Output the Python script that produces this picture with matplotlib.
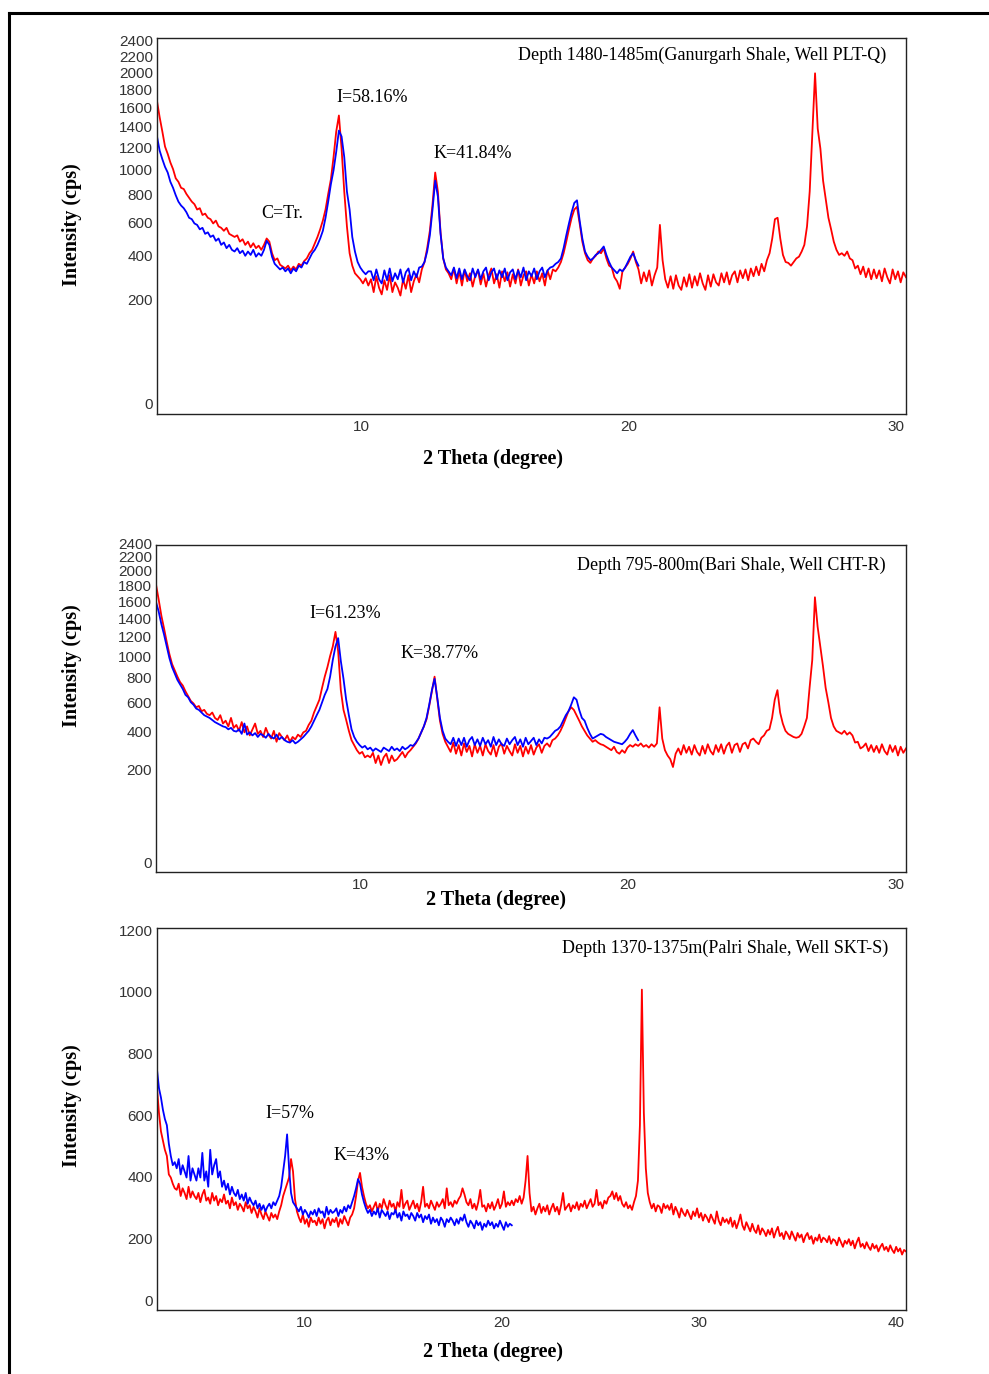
import numpy as np
import matplotlib
matplotlib.use("Agg")
import matplotlib.pyplot as plt
from matplotlib.lines import Line2D
from matplotlib.transforms import ScaledTranslation

# XRD patterns, 2 theta from 2 degrees in 0.1 degree steps
p1_red = [
    1780, 1600, 1450, 1300, 1230, 1150, 1090, 1010, 980, 930,
    920, 880, 850, 820, 800, 760, 770, 720, 730, 700,
    690, 660, 680, 640, 630, 610, 630, 590, 580, 570,
    580, 540, 555, 520, 540, 505, 530, 500, 515, 490,
    520, 560, 540, 470, 430, 440, 405, 395, 385, 400,
    375, 395, 380, 410, 400, 425, 440, 470, 490, 530,
    570, 620, 680, 760, 880, 1000, 1200, 1450, 1620, 1280,
    900, 640, 470, 400, 360, 345, 330, 310, 335, 300,
    330, 270, 345, 290, 260, 325, 280, 350, 270, 315,
    290, 255, 330, 285, 350, 270, 320, 355, 315, 380,
    420, 500, 610, 800, 1060, 900, 600, 440, 380, 360,
    330, 385, 310, 370, 300, 375, 320, 360, 295, 350,
    375, 305, 360, 295, 350, 385, 310, 355, 290, 370,
    320, 365, 295, 355, 310, 380, 300, 350, 370, 300,
    355, 310, 370, 320, 360, 300, 375, 330, 380, 370,
    390, 420, 470, 540, 620, 700, 760, 780, 660, 540,
    470, 430, 415, 440, 455, 480, 470, 500, 440, 400,
    390, 340, 320, 285, 370, 390, 410, 440, 480, 420,
    380, 310, 365, 320, 375, 300, 350, 390, 650, 430,
    330, 290, 345, 285, 350, 300, 280, 340, 295, 355,
    290, 345, 300, 360, 310, 280, 350, 295, 355, 315,
    300, 360, 315, 365, 305, 350, 370, 315, 375, 335,
    380, 325, 385, 345, 395, 350, 410, 370, 430, 470,
    560, 690, 700, 560, 460, 420, 415, 400, 420, 440,
    450, 480, 520, 640, 900, 1450, 2110, 1480, 1280, 990,
    840, 700, 620, 540, 490, 460, 470, 455, 480, 440,
    430, 385, 400, 355, 395, 340, 385, 330, 380, 335,
    375, 320, 385, 340, 310, 380, 330, 370, 315, 365,
    340,
]
p1_blue = [
    1400, 1260, 1180, 1110, 1060, 980, 930, 870, 820, 790,
    770, 740, 700, 690, 660, 650, 620, 630, 590, 600,
    570, 580, 545, 560, 520, 535, 500, 520, 490, 480,
    500, 470, 485, 455, 480, 460, 490, 450, 470, 455,
    490, 545, 520, 450, 410, 395, 380, 390, 370, 385,
    360, 385, 370, 400, 390, 420, 410, 440, 470, 490,
    520, 560, 610, 700, 820, 960, 1080, 1250, 1460, 1400,
    1200, 900, 760, 570, 480, 420, 390, 370, 355, 370,
    370, 325, 380, 330, 310, 375, 325, 385, 320, 360,
    330, 380, 315, 365, 385, 325, 370, 340, 390, 395,
    420, 480, 580, 760, 990, 860, 590, 440, 390, 370,
    350, 390, 335, 385, 330, 380, 345, 325, 385, 340,
    380, 330, 370, 390, 325, 365, 385, 330, 375, 340,
    385, 325, 365, 380, 330, 375, 340, 390, 325, 370,
    345, 385, 330, 370, 390, 340, 375, 390, 395, 410,
    420, 440, 500, 580, 660, 740, 810, 830, 680, 560,
    480, 450, 430, 440, 460, 470, 490, 510, 460, 420,
    390, 375, 360, 380, 370, 390, 420, 450, 470, 430,
    400,
]
p2_red = [
    1950, 1750, 1550, 1400, 1250, 1120, 1020, 960, 900, 850,
    820, 770, 730, 690, 670, 640, 650, 610, 620, 590,
    580, 600, 560, 545, 580, 520, 540, 500, 560, 490,
    510, 470, 530, 460, 500, 440, 480, 520, 450, 470,
    430, 490, 445, 420, 470, 400, 455, 430, 410, 440,
    400, 430, 415, 445, 430, 460, 470, 510, 540, 600,
    650, 700, 800, 900, 990, 1100, 1200, 1360, 1150, 780,
    620, 545, 470, 410, 380, 350, 330, 340, 310, 320,
    310, 335, 280, 320, 270, 310, 330, 280, 320, 290,
    300, 320, 340, 310, 335, 350, 370, 390, 420, 460,
    500, 550, 650, 770, 900, 710, 540, 450, 400, 370,
    340, 395, 330, 380, 320, 390, 340, 375, 315, 385,
    335, 375, 320, 385, 345, 325, 380, 315, 370, 390,
    330, 375, 345, 320, 385, 335, 375, 315, 370, 330,
    380, 325, 365, 385, 335, 375, 390, 370, 410, 420,
    440, 470, 510, 560, 610, 640, 620, 580, 540, 500,
    470, 440, 420, 400, 410, 395, 385, 380, 370, 360,
    350, 370, 340, 330, 350, 335, 365, 380, 370, 385,
    375, 390, 370, 380, 365, 385, 370, 390, 640, 420,
    350, 320, 300, 260, 330, 360, 325, 380, 335, 370,
    325, 380, 340, 320, 375, 330, 385, 345, 325, 380,
    340, 385, 330, 375, 395, 335, 380, 390, 340, 385,
    395, 360, 410, 420, 400, 385, 425, 440, 470, 480,
    560, 700, 780, 600, 520, 470, 450, 440, 430, 425,
    430, 450, 500, 560, 800, 1060, 1780, 1420, 1200, 1000,
    800, 680, 560, 500, 470, 460, 450, 470, 445, 460,
    440, 395, 400, 360, 370, 390, 345, 380, 340, 375,
    335, 385, 345, 325, 380, 340, 375, 320, 370, 335,
    360,
]
p2_blue = [
    1720, 1600, 1450, 1330, 1200, 1080, 990, 930, 870, 830,
    790, 740, 720, 680, 660, 630, 620, 600, 580, 570,
    560, 545, 530, 520, 510, 500, 495, 480, 490, 470,
    465, 480, 450, 520, 445, 460, 440, 455, 430, 450,
    440, 425, 450, 430, 420, 445, 415, 430, 410, 400,
    395, 410, 390, 400, 415, 430, 450, 470, 500, 540,
    580, 620, 680, 740, 790, 900, 1060, 1200, 1290, 1050,
    880, 700, 580, 480, 430, 400, 380, 365, 375, 355,
    365, 345, 360, 350, 340, 365, 355, 345, 370, 350,
    360, 345, 370, 355, 365, 380, 375, 395, 420, 460,
    500, 560, 660, 780, 880, 720, 560, 470, 420, 400,
    385, 425, 375, 420, 380, 425, 370, 410, 430, 380,
    415, 375, 425, 385, 410, 370, 430, 380, 415, 385,
    375, 420, 385, 410, 430, 380, 415, 370, 425, 385,
    405, 425, 380, 415, 390, 425, 420, 430, 450, 470,
    480, 500, 540, 580, 610, 660, 720, 700, 620, 560,
    540, 490, 450, 420, 430, 440, 450, 445, 430, 420,
    410, 400, 395, 390, 385, 400, 420, 450, 475, 440,
    410,
]
p3_red = [
    720, 640, 580, 550, 520, 500, 440, 430, 410, 395,
    390, 410, 370, 395, 380, 360, 400, 365, 385, 370,
    360, 380, 350, 375, 390, 355, 365, 345, 380, 355,
    370, 340, 360, 350, 375, 345, 355, 330, 365, 340,
    350, 325, 345, 335, 320, 350, 330, 340, 315, 335,
    320, 300, 330, 310, 295, 320, 305, 290, 315, 300,
    310, 295, 320, 340, 370, 390, 410, 430, 490, 450,
    360, 320, 300, 285, 310, 280, 295, 270, 300, 285,
    290, 275, 300, 280, 295, 265, 290, 300, 275, 295,
    285, 300, 270, 295, 280, 305, 290, 275, 300, 310,
    330, 370, 420, 445, 400, 370, 345, 330, 340, 320,
    335, 350, 320, 345, 330, 360, 340, 325, 355, 335,
    345, 320, 350, 335, 390, 330, 345, 355, 325, 340,
    355, 330, 345, 320, 350, 400, 335, 345, 330, 355,
    340, 325, 350, 335, 345, 360, 330, 395, 340, 350,
    335, 355, 345, 360, 370, 395, 375, 350, 340, 360,
    330, 345, 325, 350, 390, 335, 340, 320, 345, 330,
    350, 325, 340, 360, 330, 345, 385, 335, 350, 340,
    355, 340, 360, 350, 370, 345, 365, 420, 500, 380,
    320, 335, 310, 330, 345, 315, 335, 320, 340, 310,
    330, 345, 320, 335, 310, 340, 380, 325, 335, 345,
    320, 340, 330, 350, 325, 345, 335, 355, 330, 345,
    360, 335, 345, 390, 340, 350, 330, 355, 345, 365,
    370, 385, 360, 380, 355, 370, 345, 335, 350, 330,
    340, 325, 350, 370, 420, 600, 1040, 640, 460, 380,
    350, 330, 345, 320, 340, 335, 315, 345, 330, 340,
    325, 345, 310, 335, 320, 300, 330, 315, 305, 325,
    310, 295, 320, 305, 330, 300, 315, 290, 310, 300,
    285, 310, 295, 280, 320, 290, 275, 300, 285, 295,
    280, 300, 270, 290, 265, 285, 310, 275, 260, 285,
    270, 255, 280, 260, 250, 275, 245, 265, 255, 240,
    260, 245, 265, 235, 255, 270, 240, 250, 230, 255,
    245, 230, 255, 240, 225, 250, 235, 245, 220, 240,
    250, 230, 240, 215, 235, 225, 245, 220, 235, 230,
    220, 240, 215, 230, 225, 210, 235, 220, 205, 225,
    215, 230, 210, 225, 200, 220, 235, 205, 215, 200,
    220, 205, 195, 215, 200, 210, 190, 205, 215, 195,
    205, 190, 210, 195, 185, 205, 190, 200, 180, 195,
    190,
]
p3_blue = [
    780, 720, 690, 650, 620, 600, 540, 500, 470, 480,
    460, 490, 440, 470, 450, 430, 500, 420, 460, 440,
    420, 460, 430, 510, 420, 450, 400, 520, 440, 470,
    490, 430, 450, 400, 420, 390, 410, 375, 400, 380,
    370, 390, 360, 375, 355, 380, 345, 365, 350, 340,
    355, 330, 345, 325, 340, 320, 335, 345, 330, 350,
    340, 355, 370, 400, 450, 500, 570, 460, 380, 350,
    340, 330, 320, 335, 310, 325, 315, 300, 320, 310,
    325, 305, 330, 315, 320, 300, 335, 310, 325, 315,
    320, 330, 305, 325, 315, 335, 320, 340, 330, 350,
    370, 395, 425, 410, 375, 350, 330, 315, 325, 305,
    320, 310, 330, 300, 325, 315, 305, 320, 295, 315,
    310, 325, 300, 315, 290, 320, 305, 310, 295, 315,
    305, 290, 315, 300, 310, 285, 305, 295, 310, 280,
    300, 285, 295, 275, 300, 290, 270, 295, 285, 300,
    290, 275, 295, 280, 300, 290, 310, 285, 270, 290,
    280, 265, 290, 275, 285, 260, 280, 270, 290, 275,
    285, 265, 280, 270, 290, 275, 260, 285, 270, 280,
    275,
]

sqrt_ticks = [0, 200, 400, 600, 800, 1000, 1200, 1400, 1600, 1800, 2000, 2200, 2400]
lin_ticks = [0, 200, 400, 600, 800, 1000, 1200]

titles = [
    "Depth 1480-1485m(Ganurgarh Shale, Well PLT-Q)",
    "Depth 795-800m(Bari Shale, Well CHT-R)",
    "Depth 1370-1375m(Palri Shale, Well SKT-S)",
]

W, H = 989, 1374
SERIF = "Liberation Serif"
plt.rcParams["font.family"] = ["Liberation Sans", "DejaVu Sans"]


def box(left, top, right, bottom):
    return [left / W, 1 - bottom / H, (right - left) / W, (bottom - top) / H]


def ftext(fig, px, py, s, **kw):
    fig.text(px / W, 1 - py / H, s, family=SERIF, **kw)


def draw_panel(fig, ax, red, blue, xmax, ymax, yticks, xticks, sqrt_scale):
    """Plot one red/blue XRD pair on its own axes."""
    x_red = 2 + 0.1 * np.arange(len(red))
    x_blue = 2 + 0.1 * np.arange(len(blue))
    ax.plot(x_red, red, color="#ff0000", lw=1.3)
    ax.plot(x_blue, blue, color="#0000ff", lw=1.3)
    if sqrt_scale:
        ax.set_yscale("function",
                      functions=(lambda v: np.sqrt(np.clip(v, 0, None)), np.square))
    ax.set_xlim(2, xmax)
    ax.set_ylim(0, ymax)
    ax.set_xticks(xticks)
    ax.set_xticklabels([str(v) for v in xticks])
    ax.set_yticks(yticks)
    ax.set_yticklabels([str(v) for v in yticks])
    ax.tick_params(length=0, labelsize=11, labelcolor="#333333")
    ax.tick_params(axis="x", pad=4)
    ax.tick_params(axis="y", pad=3)
    for sp in ax.spines.values():
        sp.set_linewidth(1.0)
        sp.set_color("#222222")
    # the instrument software prints its labels a little off the tick spots
    dx = ScaledTranslation(-0.1, 0, fig.dpi_scale_trans)
    dy = ScaledTranslation(0, 0.1, fig.dpi_scale_trans)
    for lab in ax.get_xticklabels():
        lab.set_transform(lab.get_transform() + dx)
    for lab in ax.get_yticklabels():
        lab.set_transform(lab.get_transform() + dy)


fig = plt.figure(figsize=(W / 100, H / 100), dpi=100)

ax1 = fig.add_axes(box(157, 38, 906, 414))
draw_panel(fig, ax1, p1_red, p1_blue, 30, 2570, sqrt_ticks, [10, 20, 30], True)
ax2 = fig.add_axes(box(156, 545, 906, 872))
draw_panel(fig, ax2, p2_red, p2_blue, 30, 2522, sqrt_ticks, [10, 20, 30], True)
ax3 = fig.add_axes(box(157, 928, 906, 1310))
draw_panel(fig, ax3, p3_red, p3_blue, 40, 1240, lin_ticks, [10, 20, 30, 40], False)

# panel titles and peak labels
ftext(fig, 886, 55, titles[0], fontsize=13, ha="right", va="center")
ftext(fig, 372, 97, "I=58.16%", fontsize=13, ha="center", va="center")
ftext(fig, 473, 154, "K=41.84%", fontsize=13, ha="center", va="center")
ftext(fig, 282, 214, "C=Tr.", fontsize=13, ha="center", va="center")

ftext(fig, 886, 565, titles[1], fontsize=13, ha="right", va="center")
ftext(fig, 345, 614, "I=61.23%", fontsize=13, ha="center", va="center")
ftext(fig, 440, 653, "K=38.77%", fontsize=13, ha="center", va="center")

ftext(fig, 888, 948, titles[2], fontsize=13, ha="right", va="center")
ftext(fig, 290, 1113, "I=57%", fontsize=13, ha="center", va="center")
ftext(fig, 362, 1155, "K=43%", fontsize=13, ha="center", va="center")

# axis titles
for yc in (225, 666, 1106):
    ftext(fig, 72, yc, "Intensity (cps)", fontsize=14.5, fontweight="bold",
          rotation=90, ha="center", va="center")
for xc, yc in ((493, 459), (496, 900), (493, 1352)):
    ftext(fig, xc, yc, "2 Theta (degree)", fontsize=14.5, fontweight="bold",
          ha="center", va="center")

# page frame: left and top edges only, the rest is cut off
fig.add_artist(Line2D([9 / W, 9 / W], [0, 1 - 13 / H], color="black", lw=2.2,
                      transform=fig.transFigure))
fig.add_artist(Line2D([9 / W, 1], [1 - 13 / H, 1 - 13 / H], color="black", lw=2.2,
                      transform=fig.transFigure))

fig.savefig("out.png", dpi=100)
